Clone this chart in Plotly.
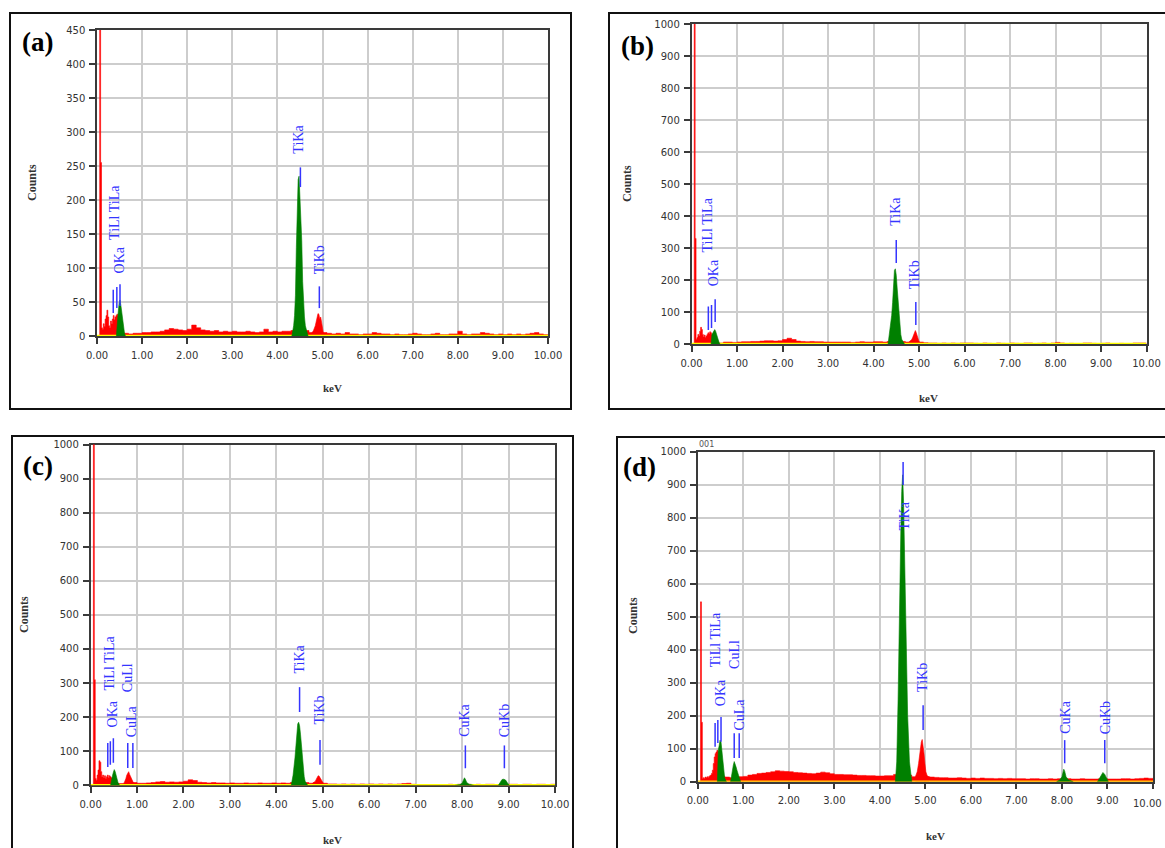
import plotly.graph_objects as go

W, H = 1165, 848

# ---------------- data ----------------
X_TICKS = [0, 1, 2, 3, 4, 5, 6, 7, 8, 9, 10]
X_RANGE = [0, 10]

E_LOW = [0.04, 0.06, 0.08, 0.10, 0.12, 0.14, 0.16, 0.18, 0.20, 0.22, 0.24, 0.26, 0.28,
         0.30, 0.32, 0.34, 0.36, 0.38, 0.40, 0.42, 0.44, 0.46, 0.48, 0.50, 0.52, 0.54,
         0.56, 0.58]
E_BG = [0.6, 0.7, 0.8, 0.9, 1.0,
        1.1, 1.2, 1.3, 1.4, 1.5, 1.6, 1.7, 1.8, 1.9, 2.0,
        2.1, 2.2, 2.3, 2.4, 2.5, 2.6, 2.7, 2.8, 2.9, 3.0,
        3.1, 3.2, 3.3, 3.4, 3.5, 3.6, 3.7, 3.8, 3.9, 4.0,
        4.1, 4.2, 4.3, 4.4, 4.5, 4.6, 4.7, 4.8, 4.9, 5.0,
        5.1, 5.2, 5.3, 5.4, 5.5, 5.6, 5.7, 5.8, 5.9, 6.0,
        6.1, 6.2, 6.3, 6.4, 6.5, 6.6, 6.7, 6.8, 6.9, 7.0,
        7.1, 7.2, 7.3, 7.4, 7.5, 7.6, 7.7, 7.8, 7.9, 8.0,
        8.1, 8.2, 8.3, 8.4, 8.5, 8.6, 8.7, 8.8, 8.9, 9.0,
        9.1, 9.2, 9.3, 9.4, 9.5, 9.6, 9.7, 9.8, 9.9, 10.0]

# panel (a)
A_LOW = [0, 2000, 255, 12, 10, 18, 14, 25, 30, 38, 28, 15, 12, 22, 18, 25, 30, 24,
         28, 30, 32, 30, 26, 22, 18, 12, 8, 5]
A_BG = [4, 3, 4, 4, 5,
        5, 6, 6, 7, 9, 11, 10, 9, 8, 10,
        16, 12, 9, 8, 7, 8, 6, 7, 6, 7,
        6, 6, 7, 6, 5, 6, 10, 6, 7, 6,
        7, 7, 8, 10, 10, 8, 5, 6, 6, 5,
        4, 3, 4, 3, 5, 3, 3, 2, 3, 3,
        5, 4, 3, 3, 2, 3, 2, 2, 3, 4,
        3, 2, 2, 3, 4, 2, 2, 3, 3, 7,
        3, 2, 3, 3, 5, 4, 3, 2, 3, 2,
        3, 2, 3, 2, 3, 4, 5, 3, 2, 2]
A_OKA_E = [0.43, 0.45, 0.47, 0.49, 0.51, 0.53, 0.55, 0.57, 0.59, 0.61, 0.63]
A_OKA_C = [0, 28, 35, 48, 53, 45, 32, 20, 10, 4, 0]
A_TIKA_E = [4.32, 4.36, 4.38, 4.40, 4.42, 4.44, 4.46, 4.48, 4.50, 4.52, 4.54, 4.56,
            4.58, 4.60, 4.62, 4.65, 4.68]
A_TIKA_C = [0, 15, 30, 60, 130, 175, 230, 235, 205, 150, 140, 80, 45, 28, 15, 6, 0]
A_TIKB_E = [4.76, 4.80, 4.84, 4.86, 4.88, 4.90, 4.92, 4.94, 4.96, 4.98, 5.00, 5.02, 5.04]
A_TIKB_C = [4, 8, 15, 22, 28, 33, 32, 25, 28, 20, 8, 4, 3]
A_LABELS = ["TiLl TiLa", "OKa", "TiKa", "TiKb"]
A_LABEL_KEV = [0.39, 0.49, 4.48, 4.92]
A_LABEL_BASE = [140, 90, 266, 90]
A_MARK_KEV = [0.36, 0.44, 0.51, 4.51, 4.93]
A_MARK_LO = [34, 41, 44, 219, 41]
A_MARK_HI = [68, 72, 76, 248, 73]

# panel (b)
B_LOW = [0, 2000, 330, 15, 20, 30, 25, 40, 52, 45, 30, 22, 28, 20, 25, 30, 35, 32,
         38, 35, 30, 28, 25, 22, 20, 15, 10, 6]
B_BG = [3, 6, 6, 5, 6,
        7, 7, 8, 8, 9, 10, 10, 9, 10, 14,
        18, 14, 9, 8, 7, 8, 7, 7, 6, 6,
        6, 6, 6, 6, 5, 6, 7, 6, 6, 7,
        7, 6, 8, 10, 10, 8, 6, 6, 8, 6,
        4, 3, 3, 2, 3, 2, 3, 2, 3, 3,
        3, 2, 0, 3, 2, 0, 3, 2, 0, 3,
        2, 0, 3, 3, 0, 2, 3, 0, 3, 5,
        3, 0, 2, 0, 0, 3, 3, 2, 0, 2,
        3, 0, 0, 2, 0, 0, 3, 3, 3, 3]
B_OKA_E = [0.43, 0.45, 0.47, 0.49, 0.51, 0.53, 0.55, 0.57, 0.59, 0.61, 0.63]
B_OKA_C = [0, 30, 35, 42, 45, 40, 30, 18, 8, 3, 0]
B_TIKA_E = [4.32, 4.36, 4.40, 4.42, 4.44, 4.46, 4.48, 4.50, 4.52, 4.54, 4.56, 4.58,
            4.60, 4.62, 4.64, 4.66, 4.68]
B_TIKA_C = [0, 40, 90, 130, 180, 230, 235, 215, 175, 130, 90, 55, 30, 15, 8, 4, 0]
B_TIKB_E = [4.76, 4.80, 4.84, 4.86, 4.88, 4.90, 4.92, 4.94, 4.96, 4.98, 5.00, 5.02, 5.04]
B_TIKB_C = [4, 8, 14, 20, 30, 40, 42, 35, 25, 15, 8, 4, 3]
B_LABELS = ["TiLl TiLa", "OKa", "TiKa", "TiKb"]
B_LABEL_KEV = [0.36, 0.49, 4.48, 4.91]
B_LABEL_BASE = [284, 178, 366, 169]
B_MARK_KEV = [0.37, 0.44, 0.52, 4.50, 4.93]
B_MARK_LO = [44, 50, 69, 253, 59]
B_MARK_HI = [117, 122, 140, 325, 131]

# panel (c)
C_LOW = [0, 2000, 310, 20, 15, 30, 45, 72, 68, 40, 25, 30, 22, 28, 20, 25, 30, 22,
         28, 25, 22, 20, 18, 15, 12, 10, 8, 6]
C_BG = [5, 6, 8, 8, 6,
        6, 7, 8, 10, 11, 9, 10, 9, 10, 12,
        16, 14, 9, 8, 7, 8, 7, 7, 6, 7,
        6, 6, 7, 6, 6, 7, 6, 6, 7, 6,
        7, 6, 8, 10, 10, 8, 6, 8, 8, 6,
        4, 4, 3, 4, 3, 4, 3, 4, 3, 4,
        3, 4, 3, 4, 3, 4, 5, 6, 3, 2,
        0, 2, 0, 2, 2, 0, 3, 2, 3, 4,
        3, 2, 3, 0, 3, 3, 2, 3, 3, 3,
        3, 2, 3, 3, 2, 3, 3, 2, 3, 3]
C_OKA_E = [0.43, 0.45, 0.47, 0.49, 0.51, 0.53, 0.55, 0.57, 0.59, 0.61, 0.63]
C_OKA_C = [0, 22, 28, 38, 46, 40, 28, 15, 8, 3, 0]
C_CUL_E = [0.72, 0.74, 0.76, 0.78, 0.80, 0.82, 0.84, 0.86, 0.88, 0.90, 0.92, 0.94, 0.96]
C_CUL_C = [6, 12, 20, 30, 38, 40, 32, 25, 18, 12, 8, 6, 5]
C_TIKA_E = [4.32, 4.36, 4.40, 4.42, 4.44, 4.46, 4.48, 4.50, 4.52, 4.54, 4.56, 4.58,
            4.60, 4.62, 4.64, 4.66, 4.68]
C_TIKA_C = [0, 30, 80, 110, 150, 180, 185, 175, 150, 115, 80, 45, 25, 12, 6, 3, 0]
C_TIKB_E = [4.76, 4.80, 4.84, 4.86, 4.88, 4.90, 4.92, 4.94, 4.96, 4.98, 5.00, 5.02, 5.04]
C_TIKB_C = [4, 7, 12, 18, 25, 28, 27, 22, 18, 12, 6, 4, 3]
C_CUKA_E = [7.85, 7.95, 8.00, 8.03, 8.05, 8.07, 8.10, 8.15, 8.25]
C_CUKA_C = [0, 2, 6, 15, 22, 18, 8, 3, 0]
C_CUKB_E = [8.78, 8.82, 8.86, 8.90, 8.94, 8.98, 9.02]
C_CUKB_C = [0, 10, 17, 18, 15, 6, 0]
C_LABELS = ["TiLl TiLa", "CuLl", "OKa", "CuLa", "TiKa", "TiKb", "CuKa", "CuKb"]
C_LABEL_KEV = [0.40, 0.80, 0.48, 0.90, 4.49, 4.92, 8.05, 8.92]
C_LABEL_BASE = [274, 271, 168, 139, 324, 174, 139, 139]
C_MARK_KEV = [0.37, 0.425, 0.49, 0.80, 0.91, 4.50, 4.94, 8.07, 8.91]
C_MARK_LO = [54, 60, 66, 51, 51, 215, 60, 50, 50]
C_MARK_HI = [124, 129, 138, 124, 124, 288, 133, 117, 117]

# panel (d)
D_LOW = [0, 545, 180, 10, 12, 10, 14, 12, 15, 13, 16, 18, 20, 25, 35, 55, 75, 85,
         90, 95, 92, 60, 40, 30, 25, 20, 18, 15]
D_BG = [14, 12, 15, 15, 16,
        20, 22, 25, 26, 28, 30, 33, 32, 31, 30,
        28, 27, 26, 25, 24, 26, 29, 27, 24, 22,
        22, 21, 21, 20, 19, 19, 18, 18, 17, 17,
        18, 18, 22, 30, 30, 20, 15, 18, 18, 15,
        14, 13, 12, 12, 11, 11, 12, 11, 10, 11,
        10, 11, 10, 10, 9, 10, 9, 10, 9, 9,
        9, 8, 9, 9, 8, 8, 9, 8, 9, 10,
        9, 8, 8, 9, 8, 8, 8, 9, 9, 8,
        8, 8, 9, 9, 8, 9, 10, 11, 10, 9]
D_OKA_E = [0.43, 0.45, 0.47, 0.49, 0.51, 0.53, 0.55, 0.57, 0.59, 0.61, 0.63]
D_OKA_C = [0, 95, 110, 126, 120, 95, 60, 30, 12, 5, 0]
D_CUL_E = [0.72, 0.74, 0.76, 0.78, 0.80, 0.82, 0.84, 0.86, 0.88, 0.90, 0.92, 0.94]
D_CUL_C = [0, 20, 35, 50, 61, 55, 45, 35, 25, 15, 8, 0]
D_TIKA_E = [4.34, 4.37, 4.40, 4.42, 4.44, 4.46, 4.48, 4.50, 4.52, 4.54, 4.56, 4.58,
            4.61, 4.65, 4.70]
D_TIKA_C = [0, 60, 250, 450, 620, 760, 880, 930, 850, 700, 560, 420, 200, 60, 0]
D_TIKB_E = [4.78, 4.82, 4.85, 4.87, 4.89, 4.91, 4.93, 4.95, 4.97, 4.99, 5.01, 5.04, 5.08]
D_TIKB_C = [15, 30, 55, 80, 105, 120, 128, 110, 85, 55, 30, 18, 14]
D_CUKA_E = [7.88, 7.95, 8.00, 8.02, 8.04, 8.06, 8.09, 8.14, 8.25]
D_CUKA_C = [0, 5, 15, 30, 38, 32, 15, 6, 0]
D_CUKB_E = [8.78, 8.82, 8.86, 8.90, 8.94, 8.98, 9.02]
D_CUKB_C = [0, 10, 20, 28, 22, 8, 0]
D_LABELS = ["TiLl TiLa", "CuLl", "OKa", "CuLa", "TiKa", "TiKb", "CuKa", "CuKb"]
D_LABEL_KEV = [0.39, 0.80, 0.50, 0.92, 4.53, 4.95, 8.09, 8.96]
D_LABEL_BASE = [344, 338, 226, 151, 757, 268, 141, 141]
D_MARK_KEV = [0.38, 0.44, 0.51, 0.80, 0.91, 4.51, 4.95, 8.06, 8.94]
D_MARK_LO = [106, 117, 121, 72, 72, 899, 157, 56, 56]
D_MARK_HI = [178, 187, 196, 147, 147, 969, 232, 126, 126]

PANELS = [
    dict(tag="(a)", low=A_LOW, bg=A_BG,
         red=[(A_TIKB_E, A_TIKB_C)],
         green=[(A_OKA_E, A_OKA_C), (A_TIKA_E, A_TIKA_C)],
         labels=A_LABELS, lkev=A_LABEL_KEV, lbase=A_LABEL_BASE,
         mkev=A_MARK_KEV, mlo=A_MARK_LO, mhi=A_MARK_HI),
    dict(tag="(b)", low=B_LOW, bg=B_BG,
         red=[(B_TIKB_E, B_TIKB_C)],
         green=[(B_OKA_E, B_OKA_C), (B_TIKA_E, B_TIKA_C)],
         labels=B_LABELS, lkev=B_LABEL_KEV, lbase=B_LABEL_BASE,
         mkev=B_MARK_KEV, mlo=B_MARK_LO, mhi=B_MARK_HI),
    dict(tag="(c)", low=C_LOW, bg=C_BG,
         red=[(C_CUL_E, C_CUL_C), (C_TIKB_E, C_TIKB_C)],
         green=[(C_OKA_E, C_OKA_C), (C_TIKA_E, C_TIKA_C), (C_CUKA_E, C_CUKA_C),
                (C_CUKB_E, C_CUKB_C)],
         labels=C_LABELS, lkev=C_LABEL_KEV, lbase=C_LABEL_BASE,
         mkev=C_MARK_KEV, mlo=C_MARK_LO, mhi=C_MARK_HI),
    dict(tag="(d)", low=D_LOW, bg=D_BG,
         red=[(D_TIKB_E, D_TIKB_C)],
         green=[(D_OKA_E, D_OKA_C), (D_CUL_E, D_CUL_C), (D_TIKA_E, D_TIKA_C),
                (D_CUKA_E, D_CUKA_C), (D_CUKB_E, D_CUKB_C)],
         labels=D_LABELS, lkev=D_LABEL_KEV, lbase=D_LABEL_BASE,
         mkev=D_MARK_KEV, mlo=D_MARK_LO, mhi=D_MARK_HI),
]

# ---------------- layout geometry (pixels) ----------------
GEOM = [
    dict(plot=(97, 548, 30, 336), frame=(10, 571, 13, 409), ymax=450, dtick=50,
         tagpos=(37, 42), counts=(32, 183), kev=(332, 388), base="#ffff00"),
    dict(plot=(691.5, 1146.5, 24, 344), frame=(609, 1180, 13, 409), ymax=1000, dtick=100,
         tagpos=(637, 46), counts=(627, 184), kev=(928, 398), base="#ffff00"),
    dict(plot=(90.6, 555, 444.5, 785.3), frame=(12, 573, 436, 870), ymax=1000, dtick=100,
         tagpos=(38, 466), counts=(24, 615), kev=(332, 840), base="#ffff00"),
    dict(plot=(697.8, 1153, 451.7, 781.7), frame=(617, 1180, 437, 870), ymax=1000, dtick=100,
         tagpos=(639, 467), counts=(633, 616), kev=(935, 836), base="#ffd500"),
]

RED = "#ff0000"
GREEN = "#008000"
BLUE = "#3535ff"
SERIF = "Liberation Serif"
SANS = "DejaVu Sans"
TICKFONT = dict(family=SANS, size=10, color="#333333")


def px(x):
    return x / W


def py(y):
    return 1 - y / H


fig = go.Figure()
layout = dict(
    width=W, height=H, autosize=False,
    margin=dict(l=0, r=0, t=0, b=0, pad=0),
    paper_bgcolor="white", plot_bgcolor="white",
    showlegend=False, template="none",
)
annotations = []
shapes = []

for i, (p, g) in enumerate(zip(PANELS, GEOM), start=1):
    xa, ya = ("x" if i == 1 else f"x{i}"), ("y" if i == 1 else f"y{i}")
    x0, x1, y0, y1 = g["plot"]
    layout["xaxis" if i == 1 else f"xaxis{i}"] = dict(
        domain=[px(x0), px(x1)], range=X_RANGE, anchor=ya,
        tickvals=X_TICKS, tickformat=".2f",
        showgrid=True, gridcolor="#cdcdcd", gridwidth=1.6,
        showline=True, linecolor="#3a3a3a", linewidth=1.5, mirror=True,
        ticks="outside", ticklen=6, tickwidth=1.5, tickcolor="#3a3a3a",
        tickfont=TICKFONT,
        ticklabelstandoff=3, zeroline=False, layer="below traces", fixedrange=True,
    )
    layout["yaxis" if i == 1 else f"yaxis{i}"] = dict(
        domain=[py(y1), py(y0)], range=[0, g["ymax"]], anchor=xa,
        dtick=g["dtick"], tick0=0,
        showgrid=True, gridcolor="#cdcdcd", gridwidth=1.6,
        showline=True, linecolor="#3a3a3a", linewidth=1.5, mirror=True,
        ticks="outside", ticklen=6, tickwidth=1.5, tickcolor="#3a3a3a",
        tickfont=TICKFONT,
        ticklabelstandoff=2, zeroline=False, layer="below traces", fixedrange=True,
    )

    # red spectrum (low-energy region + background)
    fig.add_trace(go.Scatter(
        x=E_LOW + E_BG, y=p["low"] + p["bg"], xaxis=xa, yaxis=ya,
        mode="lines", line=dict(color=RED, width=0.6, shape="hv"),
        fill="tozeroy", fillcolor=RED, hoverinfo="skip"))
    for e, c in p["red"]:
        fig.add_trace(go.Scatter(
            x=e, y=c, xaxis=xa, yaxis=ya, mode="lines",
            line=dict(color=RED, width=0.6), fill="tozeroy", fillcolor=RED,
            hoverinfo="skip"))
    # yellow base line
    fig.add_trace(go.Scatter(
        x=X_RANGE, y=[0, 0], xaxis=xa, yaxis=ya, mode="lines",
        line=dict(color=g["base"], width=2.5), hoverinfo="skip"))
    # green fitted peaks
    for e, c in p["green"]:
        fig.add_trace(go.Scatter(
            x=e, y=c, xaxis=xa, yaxis=ya, mode="lines",
            line=dict(color=GREEN, width=0.6), fill="tozeroy", fillcolor=GREEN,
            hoverinfo="skip"))
    # peak marker lines
    mx, my = [], []
    for k, lo, hi in zip(p["mkev"], p["mlo"], p["mhi"]):
        mx += [k, k, None]
        my += [lo, hi, None]
    fig.add_trace(go.Scatter(
        x=mx, y=my, xaxis=xa, yaxis=ya, mode="lines",
        line=dict(color=BLUE, width=1.5), hoverinfo="skip"))
    # peak labels
    for t, k, b in zip(p["labels"], p["lkev"], p["lbase"]):
        annotations.append(dict(
            text=t, x=k, y=b, xref=xa, yref=ya, textangle=-90,
            xanchor="center", yanchor="bottom", showarrow=False,
            font=dict(family=SERIF, size=14, color=BLUE), borderpad=0))

    # panel frame
    fx0, fx1, fy0, fy1 = g["frame"]
    shapes.append(dict(type="rect", xref="paper", yref="paper",
                       x0=px(fx0), x1=px(fx1), y0=py(fy1), y1=py(fy0),
                       line=dict(color="#111111", width=2), layer="above"))
    # panel tag
    annotations.append(dict(
        text=f"<b>{p['tag']}</b>", x=px(g["tagpos"][0]), y=py(g["tagpos"][1]),
        xref="paper", yref="paper", xanchor="center", yanchor="middle",
        showarrow=False, font=dict(family=SERIF, size=27, color="black")))
    # axis titles
    annotations.append(dict(
        text="<b>Counts</b>", x=px(g["counts"][0]), y=py(g["counts"][1]),
        xref="paper", yref="paper", textangle=-90, xanchor="center",
        yanchor="middle", showarrow=False,
        font=dict(family=SERIF, size=12, color="#333333")))
    annotations.append(dict(
        text="<b>keV</b>", x=px(g["kev"][0]), y=py(g["kev"][1]),
        xref="paper", yref="paper", xanchor="center", yanchor="middle",
        showarrow=False, font=dict(family=SERIF, size=11, color="#333333")))

# last tick label of panel (d): plotly drops it (it would overflow the page),
# so draw it right-aligned to the page edge
annotations.append(dict(
    text=f"{X_TICKS[-1]:.2f}", x=px(1164), y=py(803), xref="paper", yref="paper",
    xanchor="right", yanchor="middle", showarrow=False, font=TICKFONT))
annotations.append(dict(
    text="001", x=px(706), y=py(444), xref="paper", yref="paper",
    xanchor="center", yanchor="middle", showarrow=False,
    font=dict(family=SANS, size=8, color="#555555")))

layout["annotations"] = annotations
layout["shapes"] = shapes
fig.update_layout(**layout)
fig.write_html(
    "out.html",
    config={"displayModeBar": False},
    post_script="document.body.style.margin='0';document.body.style.overflow='hidden';",
)
